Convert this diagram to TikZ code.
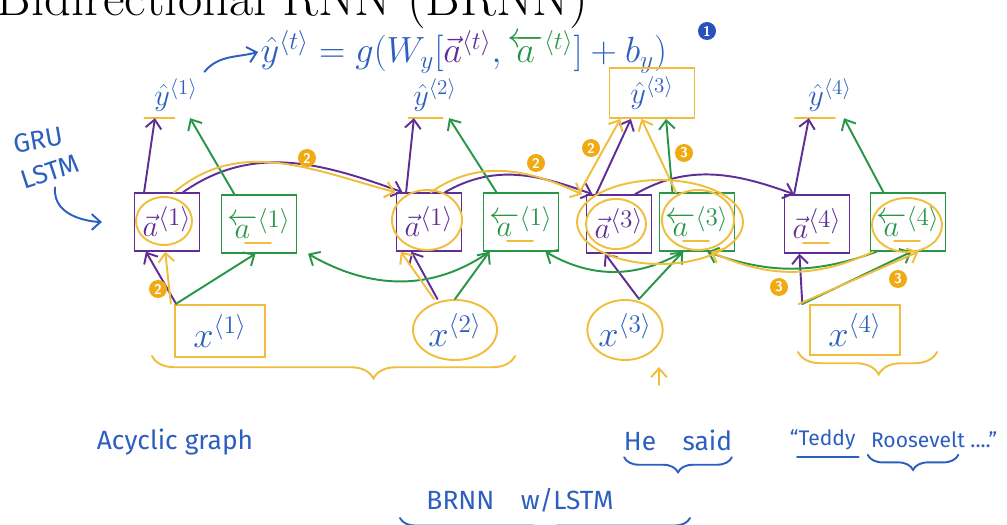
\documentclass[tikz,border=0pt]{standalone}
\usepackage{amsmath}
\usepackage{amssymb}
\usepackage{fontspec}
\newfontfamily\handfont{Fira Sans}
\usetikzlibrary{arrows.meta,shapes.geometric,decorations.pathreplacing}
\definecolor{penblue}{RGB}{45,95,190}
\definecolor{penpurple}{RGB}{95,45,150}
\definecolor{pengreen}{RGB}{40,150,70}
\definecolor{penorange}{RGB}{240,190,60}
\definecolor{badgeorange}{RGB}{240,170,20}
\definecolor{badgeblue}{RGB}{40,80,190}

\begin{document}
\begin{tikzpicture}[x=0.02cm, y=0.02cm, line width=1.1pt, line cap=round,
    >={Straight Barb[length=5pt,width=9pt]},
    fwd/.style={draw=penpurple, text=penpurple, minimum width=1.3cm, minimum height=1.15cm, font=\fontsize{19}{22}\selectfont},
    bwd/.style={draw=pengreen, text=pengreen, minimum width=1.3cm, minimum height=1.15cm, font=\fontsize{19}{22}\selectfont},
    yhat/.style={text=penblue, font=\fontsize{17}{20}\selectfont},
    xin/.style={draw=penorange, text=penblue, font=\fontsize{22}{26}\selectfont},
    hl/.style={draw=penorange},
    badge/.style={circle, fill=badgeorange, text=white, inner sep=0pt, minimum size=0.36cm, font=\sffamily\bfseries\footnotesize},
    hand/.style={text=penblue, font=\handfont\fontsize{15}{18}\selectfont}]
    \useasboundingbox (0,0) rectangle (1007,524);

    % --- title and formula ---
    \node[anchor=base west, inner sep=0pt, font=\fontsize{30}{36}\selectfont] (title) at (-4,508) {Bidirectional RNN (BRNN)};
    \node[anchor=west, inner sep=1pt, text=penblue, font=\fontsize{22}{26}\selectfont] (eq) at (258,472)
        {$\hat{y}^{\langle t\rangle} = g(W_y[\textcolor{penpurple}{\vec{a}^{\langle t\rangle}}, \textcolor{pengreen}{\overleftarrow{a}^{\langle t\rangle}}] + b_y)$};
    \node[badge, fill=badgeblue] (one) at (707,493) {1};

    % --- outputs ---
    \node[yhat] (y1) at (176,429) {$\hat{y}^{\langle 1\rangle}$};
    \node[yhat] (y2) at (435,429) {$\hat{y}^{\langle 2\rangle}$};
    \node[yhat, draw=penorange, minimum width=1.7cm, minimum height=1cm] (y3) at (652,431) {$\hat{y}^{\langle 3\rangle}$};
    \node[yhat] (y4) at (830,429) {$\hat{y}^{\langle 4\rangle}$};
    \draw[hl] ([xshift=-18]y1.south) -- ++(30,0);
    \draw[hl] ([xshift=-15]y2.south) -- ++(34,0);
    \draw[hl] ([xshift=-20]y4.south) -- ++(40,0);
    \draw[penblue, ->] (y1.north east) to [out=50, in=195] (eq.west);

    % --- cells ---
    \node[fwd] (af1) at (167,302) {$\vec{a}^{\langle 1\rangle}$};
    \node[bwd] (ab1) at (259,300) {$\overleftarrow{a}^{\langle 1\rangle}$};
    \node[fwd] (af2) at (429,302) {$\vec{a}^{\langle 1\rangle}$};
    \node[bwd] (ab2) at (521,302) {$\overleftarrow{a}^{\langle 1\rangle}$};
    \node[fwd] (af3) at (619,300) {$\vec{a}^{\langle 3\rangle}$};
    \node[bwd] (ab3) at (697,302) {$\overleftarrow{a}^{\langle 3\rangle}$};
    \node[fwd] (af4) at (817,300) {$\vec{a}^{\langle 4\rangle}$};
    \node[bwd] (ab4) at (908,302) {$\overleftarrow{a}^{\langle 4\rangle}$};
    \foreach \c in {ab1,ab2,ab3,ab4,af4} \draw[hl] ([shift={(-14,-19)}]\c.center) -- ++(26,0);

    % --- inputs ---
    \node[xin, minimum width=1.8cm, minimum height=1.05cm] (x1) at (220,193) {$x^{\langle 1\rangle}$};
    \node[xin, ellipse, minimum width=1.68cm, minimum height=1.2cm, inner sep=0pt] (x2) at (455,194) {$x^{\langle 2\rangle}$};
    \node[xin, ellipse, minimum width=1.45cm, minimum height=1.2cm, inner sep=0pt] (x3) at (625,194) {$x^{\langle 3\rangle}$};
    \node[xin, minimum width=1.8cm, minimum height=1cm] (x4) at (855,194) {$x^{\langle 4\rangle}$};

    % GRU / LSTM
    \node[hand, rotate=10] (gru) at (38,384) {GRU};
    \node[hand, rotate=18] (lstm) at (50,352) {LSTM};
    \draw[penblue, ->, shorten >=18pt] (lstm.south) to [out=-95, in=180] (af1.west);

    % --- forward pass (purple) ---
    \draw[penpurple, ->] ([xshift=-10]af1.north east) to [out=35, in=160] ([xshift=4]af2.north west);
    \draw[penpurple, ->] ([xshift=-10]af2.north east) to [out=30, in=160] ([xshift=4]af3.north west);
    \draw[penpurple, ->] ([xshift=-10]af3.north east) to [out=30, in=160] ([xshift=6]af4.north west);
    \foreach \i in {1,2,3,4} {
        \draw[penpurple, ->] ([xshift=6]af\i.north west) -- ([xshift=-12]y\i.south);
        \draw[pengreen, ->] ([xshift=-14]ab\i.north) -- ([xshift=8]y\i.south);
    }
    \draw[penpurple, ->] ([xshift=-25]x1.north) -- ([xshift=-12]af1.south);
    \draw[pengreen, ->] ([xshift=-25]x1.north) -- ([xshift=-2]ab1.south);
    \draw[penpurple, ->] ([xshift=-10]x2.north) -- ([xshift=-10]af2.south);
    \draw[pengreen, ->] (x2.north) -- ([xshift=-18]ab2.south);
    \draw[penpurple, ->] ([xshift=8]x3.north) -- ([xshift=-8]af3.south);
    \draw[pengreen, ->] ([xshift=8]x3.north) -- ([xshift=-8]ab3.south);
    \draw[penpurple, ->] ([xshift=-30]x4.north) -- ([xshift=-10]af4.south);
    \draw[pengreen, ->] ([xshift=-30]x4.north) -- ([xshift=2]ab4.south);

    % --- backward pass (green) ---
    \draw[pengreen, ->] ([xshift=4]ab2.south west) to [out=215, in=-30] ([xshift=6]ab1.south east);
    \draw[pengreen, ->] ([xshift=14]ab3.south west) to [out=210, in=-30] ([xshift=-8]ab2.south east);
    \draw[pengreen, ->] ([xshift=4]ab4.south west) to [out=200, in=-20] ([xshift=-16]ab3.south east);

    % --- highlighted paths (orange) ---
    \draw[hl] ([shift={(-3,1)}]af1.center) ellipse (28 and 24);
    \draw[hl] ([shift={(-2,2)}]af2.center) ellipse (35 and 30);
    \draw[hl] ([shift={(-3,0)}]af3.center) ellipse (30 and 25);
    \draw[hl] ([shift={(1,2)}]ab3.center) ellipse (36 and 30);
    \draw[hl] ([shift={(-1,-3)}]ab4.center) ellipse (35 and 27);
    \draw[hl] (660,302) ellipse (83 and 42);
    \draw[hl, ->] ([xshift=-15]af1.north east) to [out=40, in=165] ([xshift=0]af2.north west);
    \draw[hl, ->] ([xshift=-18]af2.north east) to [out=35, in=155] ([xshift=-2]af3.north west);
    \draw[hl, ->] ([xshift=-4]af3.north west) -- ([xshift=-18]y3.south);
    \draw[hl, ->] ([xshift=-12]ab3.north) -- ([xshift=-6]y3.south);
    \draw[hl, ->] ([xshift=-28]x1.north) -- ([xshift=-1]af1.south);
    \draw[hl, ->] ([xshift=-12]x2.north) -- ([xshift=-16]af2.south);
    \draw[hl, ->] ([xshift=-32]x4.north) -- ([xshift=6]ab4.south);
    \draw[hl, ->] ([xshift=2]ab4.south west) to [out=205, in=-25] ([xshift=-14]ab3.south east);
    \node[badge] (b2a) at (307,366) {2};
    \node[badge] (b2b) at (536,361) {2};
    \node[badge] (b2c) at (591,376) {2};
    \node[badge] (b2d) at (158,235) {2};
    \node[badge] (b3a) at (684,371) {3};
    \node[badge] (b3b) at (779,237) {3};
    \node[badge] (b3c) at (898,245) {3};

    % braces and marks
    \draw[hl, decorate, decoration={brace, amplitude=0.45cm, aspect=0.39}] (515,168) -- (152,168);
    \draw[hl, decorate, decoration={brace, amplitude=0.45cm, aspect=0.42}] (937,172) -- (798,172);
    \coordinate (up3) at (659,139);
    \draw[hl, ->] (up3) -- ++(0,18);

    % --- notes ---
    \node[hand] (acyc) at (175,82) {Acyclic graph};
    \node[hand] (said) at (678,84) {He\quad said};
    \node[hand, anchor=west, font=\handfont\fontsize{12}{15}\selectfont] (teddy) at (783,84) {“Teddy};
    \node[hand, anchor=east, font=\handfont\fontsize{12}{15}\selectfont] (roos) at (1004,84) {Roosevelt ....”};
    \draw[penblue] ([xshift=8]teddy.south west) -- ([xshift=-2]teddy.south east);
    \draw[penblue, decorate, decoration={brace, amplitude=0.3cm}] ([xshift=-4]said.south east) -- ([xshift=4]said.south west);
    \draw[penblue, decorate, decoration={brace, amplitude=0.3cm}] ([xshift=-26]roos.south east) -- ([xshift=2]roos.south west);
    \node[hand] (brnn) at (520,24) {BRNN\quad w/LSTM};
    \draw[penblue, decorate, decoration={brace, amplitude=0.3cm}] (690,6) -- (400,6);
\end{tikzpicture}
\end{document}
